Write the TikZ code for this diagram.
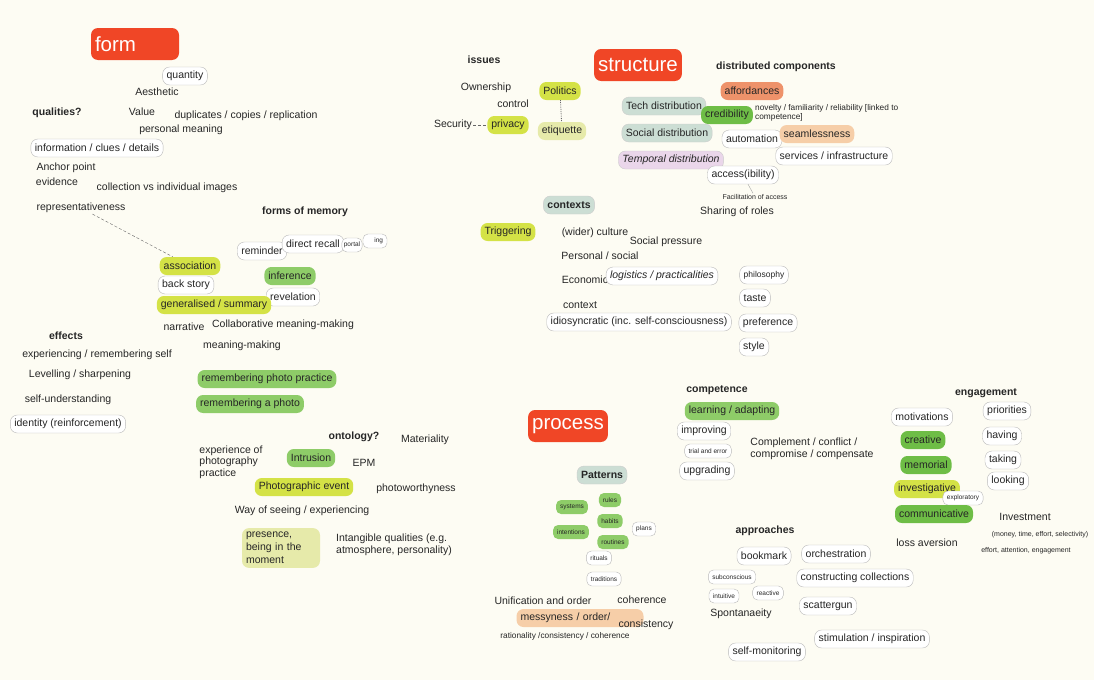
\documentclass[tikz,border=0pt]{standalone}
\usepackage{fontspec}
\setmainfont{Liberation Sans}
\usepackage{tikz}
\usetikzlibrary{shapes, positioning}
\definecolor{cream}{RGB}{253,252,243}
\definecolor{ink}{RGB}{38,38,38}
\definecolor{topicred}{RGB}{240,70,38}
\definecolor{limey}{RGB}{212,226,70}
\definecolor{palelimey}{RGB}{230,234,170}
\definecolor{leafy}{RGB}{142,204,104}
\definecolor{darkleafy}{RGB}{110,189,70}
\definecolor{sagey}{RGB}{204,222,212}
\definecolor{lilacy}{RGB}{234,214,234}
\definecolor{salmony}{RGB}{238,146,106}
\definecolor{peachy}{RGB}{246,206,168}
\tikzset{
    txt/.style={text=ink, inner sep=1pt, font=\fontsize{10.5}{12}\selectfont},
    head/.style={txt, font=\bfseries\fontsize{10.5}{12}\selectfont},
    smalltxt/.style={txt, font=\fontsize{8.3}{9.5}\selectfont},
    tinytxt/.style={txt, font=\fontsize{7}{8}\selectfont},
    topic/.style={rectangle, rounded corners=7pt, fill=topicred, text=white, inner xsep=4pt, minimum height=32pt, font=\fontsize{20.5}{24}\selectfont},
    bubble/.style={rectangle, rounded corners=7pt, draw=gray!55, fill=white, text=ink, inner xsep=4pt, inner ysep=1pt, minimum height=18pt, font=\fontsize{10.5}{12}\selectfont},
    minibubble/.style={bubble, font=\fontsize{8.5}{10}\selectfont},
    tinybubble/.style={bubble, rounded corners=5pt, minimum height=14pt, font=\fontsize{6.5}{7}\selectfont},
    limebox/.style={bubble, draw=none, fill=limey},
    palebox/.style={bubble, draw=none, fill=palelimey},
    leafbox/.style={bubble, draw=none, fill=leafy},
    darkleafbox/.style={bubble, draw=none, fill=darkleafy},
    sagebox/.style={bubble, draw=gray!40, fill=sagey},
    lilacbox/.style={bubble, draw=gray!40, fill=lilacy},
    salmonbox/.style={bubble, draw=none, fill=salmony},
    peachbox/.style={bubble, draw=none, fill=peachy},
    dashline/.style={draw=gray!80!black, densely dashed, thin},
    dotline/.style={draw=gray!80!black, densely dotted, thick}
}
\begin{document}
\begin{tikzpicture}[x=1pt, y=-1pt]
        \fill[cream] (0,0) rectangle (1094,680);
        \useasboundingbox (0,0) rectangle (1094,680);

        % Form
        \node (form) [topic, text width=80pt, align=left] at (135,44) {form};
        \node (quantity) [bubble] at (185,76) {quantity};
        \node (aesthetic) [txt] at (157,92) {Aesthetic};
        \node (qualities) [head] at (57,113) {qualities?};
        \node (value) [txt] at (142,112) {Value};
        \node (duplicates) [txt] at (246,116) {duplicates / copies / replication};
        \node (meaning) [txt] at (181,130) {personal meaning};
        \node (information) [bubble] at (97,148) {information / clues / details};
        \node (anchor) [txt] at (66,168) {Anchor point};
        \node (evidence) [txt] at (57,182) {evidence};
        \node (collection) [txt] at (167,188) {collection vs individual images};
        \node (represent) [txt] at (81,208) {representativeness};

        % Forms of memory
        \node (memory) [head] at (305,212) {forms of memory};
        \node (reminder) [bubble] at (262,251) {reminder};
        \node (recall) [bubble] at (313,244) {direct recall};
        \node (hidden) [tinybubble, text width=16pt, align=right] at (375,241) {ing};
        \node (portal) [tinybubble, inner xsep=2pt] at (352,245) {portal};
        \node (association) [limebox] at (190,266) {association};
        \node (backstory) [bubble] at (186,285) {back story};
        \node (inference) [leafbox] at (290,276) {inference};
        \node (revelation) [bubble] at (293,297) {revelation};
        \node (generalised) [limebox] at (214,305) {generalised / summary};
        \node (narrative) [txt] at (184,327) {narrative};
        \node (collab) [txt] at (283,325) {Collaborative meaning-making};
        \node (making) [txt] at (242,346) {meaning-making};
        \node (practice) [leafbox] at (267,379) {remembering photo practice};
        \node (aphoto) [leafbox] at (250,404) {remembering a photo};

        \draw[dashline] (represent) -- (association);

        % Effects
        \node (effects) [head] at (66,336) {effects};
        \node (self) [txt] at (97,355) {experiencing / remembering self};
        \node (levelling) [txt] at (80,375) {Levelling / sharpening};
        \node (understanding) [txt] at (68,400) {self-understanding};
        \node (identity) [bubble] at (68,424) {identity (reinforcement)};

        % Ontology
        \node (ontology) [head] at (354,437) {ontology?};
        \node (materiality) [txt] at (425,440) {Materiality};
        \node (experience) [txt, align=left, font=\fontsize{10.5}{11.5}\selectfont] at (231,462) {experience of\\photography\\practice};
        \node (intrusion) [leafbox] at (311,458) {Intrusion};
        \node (epm) [txt] at (364,463) {EPM};
        \node (event) [limebox] at (304,487) {Photographic event};
        \node (worthy) [txt] at (416,489) {photoworthyness};
        \node (seeing) [txt] at (302,511) {Way of seeing / experiencing};
        \node (presence) [palebox, text width=70pt, align=left, inner ysep=4pt, font=\fontsize{10.5}{13}\selectfont] at (281,548) {presence,\\being in the\\moment};
        \node (intangible) [txt, align=left, font=\fontsize{10.5}{12.5}\selectfont] at (394,545) {Intangible qualities (e.g.\\atmosphere, personality)};

        % Structure
        \node (issues) [head] at (484,60) {issues};
        \node (structure) [topic] at (638,65) {structure};
        \node (ownership) [txt] at (486,88) {Ownership};
        \node (politics) [limebox] at (560,91) {Politics};
        \node (control) [txt] at (513,104) {control};
        \node (security) [txt] at (453,125) {Security};
        \node (privacy) [limebox] at (508,125) {privacy};
        \node (etiquette) [palebox] at (562,131) {etiquette};

        \draw[dashline] (security) -- (privacy);
        \draw[dotline] (politics) -- (etiquette);

        \node (distributed) [head] at (776,67) {distributed components};
        \node (affordances) [salmonbox] at (752,91) {affordances};
        \node (tech) [sagebox] at (664,106) {Tech distribution};
        \node (credibility) [darkleafbox] at (727,115) {credibility};
        \node (novelty) [smalltxt, anchor=west, align=left] at (754,113) {novelty / familiarity / reliability [linked to\\competence]};
        \node (social) [sagebox] at (667,133) {Social distribution};
        \node (automation) [bubble] at (752,139) {automation};
        \node (seamless) [peachbox] at (817,134) {seamlessness};
        \node (services) [bubble] at (834,156) {services / infrastructure};
        \node (temporal) [lilacbox, font=\itshape\fontsize{10.5}{12}\selectfont] at (671,160) {Temporal distribution};
        \node (access) [bubble] at (743,175) {access(ibility)};
        \node (facil) [tinytxt] at (755,197) {Facilitation of access};
        \node (roles) [txt] at (737,212) {Sharing of roles};

        \draw[gray!70, thin] (access) -- (facil);

        % Contexts
        \node (contexts) [sagebox, font=\bfseries\fontsize{10.5}{12}\selectfont] at (569,205) {contexts};
        \node (triggering) [limebox] at (508,232) {Triggering};
        \node (culture) [txt] at (595,233) {(wider) culture};
        \node (pressure) [txt] at (666,242) {Social pressure};
        \node (personal) [txt] at (600,256) {Personal / social};
        \node (economic) [txt] at (585,280) {Economic};
        \node (logistics) [bubble, font=\itshape\fontsize{10.5}{12}\selectfont] at (662,276) {logistics / practicalities};
        \node (philosophy) [minibubble] at (764,275) {philosophy};
        \node (taste) [bubble] at (755,298) {taste};
        \node (context) [txt] at (580,305) {context};
        \node (idiosyncratic) [bubble] at (639,322) {idiosyncratic (inc. self-consciousness)};
        \node (preference) [bubble] at (768,323) {preference};
        \node (style) [bubble] at (754,347) {style};

        % Process
        \node (process) [topic] at (568,426) {process};
        \node (patterns) [sagebox, font=\bfseries\fontsize{10.5}{12}\selectfont] at (602,475) {Patterns};
        \node (rules) [tinybubble, draw=none, fill=leafy] at (610,500) {rules};
        \node (systems) [tinybubble, draw=none, fill=leafy] at (572,507) {systems};
        \node (habits) [tinybubble, draw=none, fill=leafy] at (610,521) {habits};
        \node (intentions) [tinybubble, draw=none, fill=leafy] at (571,532) {intentions};
        \node (plans) [tinybubble] at (644,529) {plans};
        \node (routines) [tinybubble, draw=none, fill=leafy] at (613,542) {routines};
        \node (rituals) [tinybubble] at (599,558) {rituals};
        \node (traditions) [tinybubble] at (604,579) {traditions};
        \node (unification) [txt] at (543,601) {Unification and order};
        \node (coherence) [txt] at (642,600) {coherence};
        \node (messy) [peachbox, text width=119pt, align=left] at (580,618) {messyness / order/};
        \node (consistency) [txt] at (646,625) {consistency};
        \node (rationality) [smalltxt] at (565,636) {rationality /consistency / coherence};

        % Competence
        \node (competence) [head] at (717,390) {competence};
        \node (learning) [leafbox] at (732,411) {learning / adapting};
        \node (improving) [bubble] at (704,431) {improving};
        \node (trial) [tinybubble] at (708,451) {trial and error};
        \node (complement) [txt, align=left, font=\fontsize{10.5}{12}\selectfont] at (812,449) {Complement / conflict /\\compromise / compensate};
        \node (upgrading) [bubble] at (707,471) {upgrading};

        % Engagement
        \node (engagement) [head] at (986,393) {engagement};
        \node (motivations) [bubble] at (922,417) {motivations};
        \node (priorities) [bubble] at (1007,411) {priorities};
        \node (creative) [darkleafbox] at (923,440) {creative};
        \node (having) [bubble] at (1002,436) {having};
        \node (memorial) [darkleafbox] at (926,465) {memorial};
        \node (taking) [bubble] at (1003,460) {taking};
        \node (looking) [bubble] at (1008,481) {looking};
        \node (investigative) [limebox] at (927,489) {investigative};
        \node (exploratory) [tinybubble] at (963,498) {exploratory};
        \node (communicative) [darkleafbox] at (934,514) {communicative};
        \node (investment) [txt] at (1025,517) {Investment};
        \node (money) [tinytxt] at (1040,535) {(money, time, effort, selectivity)};
        \node (loss) [txt] at (927,543) {loss aversion};
        \node (effort) [tinytxt] at (1026,551) {effort, attention, engagement};

        % Approaches
        \node (approaches) [head] at (765,531) {approaches};
        \node (bookmark) [bubble] at (764,556) {bookmark};
        \node (orchestration) [bubble] at (836,554) {orchestration};
        \node (subconscious) [tinybubble] at (732,577) {subconscious};
        \node (constructing) [bubble] at (855,578) {constructing collections};
        \node (intuitive) [tinybubble] at (724,596) {intuitive};
        \node (reactive) [tinybubble] at (768,593) {reactive};
        \node (scattergun) [bubble] at (828,606) {scattergun};
        \node (spontanaeity) [txt] at (741,614) {Spontanaeity};
        \node (stimulation) [bubble] at (872,639) {stimulation / inspiration};
        \node (monitoring) [bubble] at (767,652) {self-monitoring};
    \end{tikzpicture}
\end{document}
